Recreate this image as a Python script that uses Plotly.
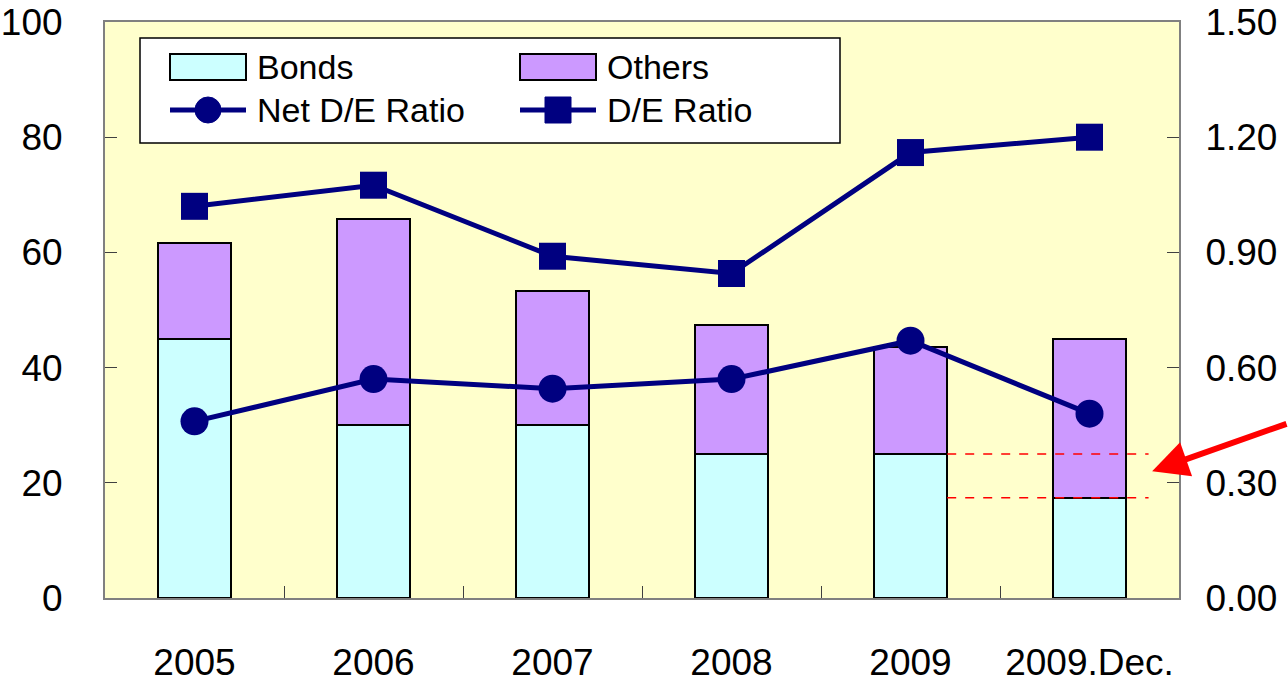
import plotly.graph_objects as go

# Data
categories = ["2005", "2006", "2007", "2008", "2009", "2009.Dec."]
bonds = [45.0, 30.0, 30.0, 25.0, 25.0, 17.4]
others = [16.6, 35.8, 23.3, 22.4, 18.6, 27.6]
net_de_ratio = [0.46, 0.57, 0.545, 0.57, 0.67, 0.48]
de_ratio = [1.02, 1.075, 0.89, 0.845, 1.16, 1.20]

FONT = "Liberation Sans, Arial, sans-serif"
NAVY = "#000080"
BOND_COLOR = "#CCFFFF"
OTHER_COLOR = "#CC99FF"

fig = go.Figure()

fig.add_trace(go.Bar(
    x=categories, y=bonds, name="Bonds",
    marker=dict(color=BOND_COLOR, line=dict(color="black", width=2)),
    width=0.41, showlegend=False,
))
fig.add_trace(go.Bar(
    x=categories, y=others, name="Others",
    marker=dict(color=OTHER_COLOR, line=dict(color="black", width=2)),
    width=0.41, showlegend=False,
))
fig.add_trace(go.Scatter(
    x=categories, y=net_de_ratio, name="Net D/E Ratio", yaxis="y2",
    mode="lines+markers",
    line=dict(color=NAVY, width=5),
    marker=dict(symbol="circle", size=28, color=NAVY),
    showlegend=False,
))
fig.add_trace(go.Scatter(
    x=categories, y=de_ratio, name="D/E Ratio", yaxis="y2",
    mode="lines+markers",
    line=dict(color=NAVY, width=5),
    marker=dict(symbol="square", size=27, color=NAVY),
    showlegend=False,
))

# Dashed guides from the 2009 bond level across to 2009.Dec.
dec_bonds_top = bonds[-1]
ref_level = bonds[4]
guide_x0 = 4 + 0.205
guide_x1 = 5.33
shapes = []
for level in (ref_level, dec_bonds_top):
    shapes.append(dict(type="line", xref="x", yref="y",
                       x0=guide_x0, x1=guide_x1, y0=level, y1=level,
                       line=dict(color="#FF0000", width=1.5, dash="dash")))

# Legend box drawn in paper coordinates
W, H = 1288, 684
L, R, T, B = 105, 109, 22, 86
pw, ph = W - L - R, H - T - B


def px(xp):
    return (xp - L) / pw


def py(yp):
    return 1 - (yp - T) / ph


shapes.append(dict(type="rect", xref="paper", yref="paper",
                   x0=px(140), x1=px(840), y0=py(143), y1=py(38),
                   fillcolor="white", line=dict(color="black", width=1.5)))
legend_rows = [
    ("rect", BOND_COLOR, "Bonds", 170, 67),
    ("rect", OTHER_COLOR, "Others", 520, 67),
    ("circle", NAVY, "Net D/E Ratio", 170, 110),
    ("square", NAVY, "D/E Ratio", 520, 110),
]
annotations = []
for kind, color, label, x0, yc in legend_rows:
    if kind == "rect":
        shapes.append(dict(type="rect", xref="paper", yref="paper",
                           x0=px(x0), x1=px(x0 + 76), y0=py(yc + 13), y1=py(yc - 13),
                           fillcolor=color, line=dict(color="black", width=2)))
    else:
        shapes.append(dict(type="line", xref="paper", yref="paper",
                           x0=px(x0), x1=px(x0 + 76), y0=py(yc), y1=py(yc),
                           line=dict(color=color, width=5)))
        cx = x0 + 38
        r = 13
        shapes.append(dict(type="circle" if kind == "circle" else "rect",
                           xref="paper", yref="paper",
                           x0=px(cx - r), x1=px(cx + r), y0=py(yc + r), y1=py(yc - r),
                           fillcolor=color, line=dict(color=color, width=1)))
    annotations.append(dict(xref="paper", yref="paper", x=px(x0 + 85), y=py(yc),
                            text=label, showarrow=False, xanchor="left", yanchor="middle",
                            font=dict(family=FONT, size=34, color="black")))

# Red pointer arrow
annotations.append(dict(
    xref="x", yref="y", x=5.35, y=22.0, text="",
    showarrow=True, arrowhead=2, arrowsize=1.2, arrowwidth=6, arrowcolor="#FF0000",
    axref="pixel", ayref="pixel", ax=150, ay=-48,
))

fig.update_layout(
    width=W, height=H,
    margin=dict(l=L, r=R, t=T, b=B, pad=0, autoexpand=False),
    paper_bgcolor="white",
    plot_bgcolor="#FFFFCC",
    barmode="stack",
    bargap=0.59,
    font=dict(family=FONT, size=37, color="black"),
    showlegend=False,
    xaxis=dict(
        type="category", categoryorder="array", categoryarray=categories,
        range=[-0.5, 5.5], automargin=False, tickangle=0,
        showline=True, linecolor="#808080", linewidth=2, mirror=True,
        ticks="inside", tickson="boundaries", ticklen=12, tickcolor="#404040", tickwidth=1,
        ticklabelstandoff=31,
        tickfont=dict(family=FONT, size=37, color="black"),
        showgrid=False, zeroline=False,
    ),
    yaxis=dict(
        range=[0, 100], dtick=20, tick0=0, automargin=False,
        showline=True, linecolor="#808080", linewidth=2, mirror=True,
        ticks="inside", ticklen=12, tickcolor="#404040", tickwidth=1,
        ticklabelstandoff=33,
        tickfont=dict(family=FONT, size=37, color="black"),
        showgrid=False, zeroline=False,
    ),
    yaxis2=dict(
        range=[0, 1.5], dtick=0.3, tick0=0, tickformat=".2f", automargin=False,
        overlaying="y", side="right",
        showline=True, linecolor="#808080", linewidth=2,
        ticks="inside", ticklen=12, tickcolor="#404040", tickwidth=1,
        ticklabelstandoff=17,
        tickfont=dict(family=FONT, size=37, color="black"),
        showgrid=False, zeroline=False,
    ),
    shapes=shapes,
    annotations=annotations,
)

fig.write_html("out.html")
